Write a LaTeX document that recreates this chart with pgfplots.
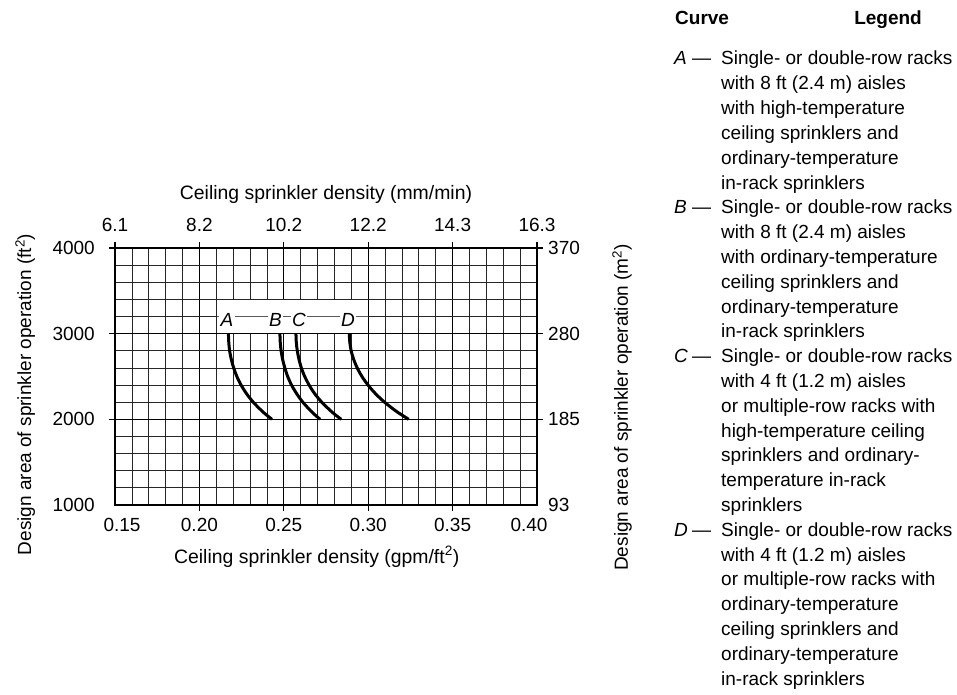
\documentclass[border=0pt]{standalone}
\usepackage{fontspec}
\setmainfont{Liberation Sans}
\usepackage{pgfplots}
\pgfplotsset{compat=1.18}
\newcommand{\fs}{\fontsize{19pt}{23pt}\selectfont}
\newcommand{\fl}{\fontsize{19.4pt}{23pt}\selectfont}
\begin{document}
\fs
\begin{tikzpicture}[x=1pt,y=1pt]
\path[use as bounding box] (0,0) rectangle (957,-695);
% main axis: grid, curves, bottom and left scales
\begin{axis}[
  at={(115pt,-505pt)}, anchor=south west,
  scale only axis, width=422pt, height=257pt,
  xmin=0.15, xmax=0.40, ymin=1000, ymax=4000,
  xtick={0.15,0.20,0.25,0.30,0.35,0.40},
  xticklabels={\hspace*{14pt}0.15,0.20,0.25,0.30,0.35,0.40\hspace*{16pt}},
  ytick={1000,2000,3000,4000},
  yticklabels={1000,2000,3000,4000},
  minor x tick num=4, minor y tick num=4,
  grid=both,
  major grid style={line width=1.3pt, black},
  minor grid style={line width=0.75pt, black!85},
  major tick length=0pt, minor tick length=0pt,
  axis line style={line width=1.3pt},
  extra x ticks={0.20,0.25,0.30,0.35}, extra x tick labels={},
  extra y ticks={2000,3000,4000}, extra y tick labels={},
  extra tick style={major tick length=6pt, tick align=outside, grid=none},
  tick style={line width=1.3pt, black},
  tick label style={font=\fs},
  xticklabel style={anchor=base, inner sep=0pt, yshift=-26.5pt},
  yticklabel style={anchor=east, inner sep=0pt, xshift=-20pt},
  xlabel={Ceiling sprinkler density (gpm/ft\textsuperscript{2})},
  ylabel={Design area of sprinkler operation (ft\textsuperscript{2})},
  label style={font=\fl},
  xlabel style={at={(axis description cs:0.478,-0.226)}, anchor=base},
  ylabel style={at={(axis description cs:-0.199,0.43)}, anchor=base, font=\fs},
  clip=false,
]
\fill[white] (axis cs:0.2104,3012) rectangle (axis cs:0.2996,3390);
\draw[black!65, line width=0.6pt] (axis cs:0.2104,3200) -- (axis cs:0.2996,3200);
\addplot[black, line width=3pt, smooth] coordinates {
  (0.2172,3000) (0.2174,2900) (0.2179,2800) (0.2189,2700) (0.2203,2600)
  (0.2222,2500) (0.2247,2400) (0.2279,2300) (0.2319,2200) (0.2369,2100)
  (0.2398,2050) (0.2430,2000)};
\addplot[black, line width=3pt, smooth] coordinates {
  (0.2477,3000) (0.2479,2900) (0.2484,2800) (0.2493,2700) (0.2506,2600)
  (0.2523,2500) (0.2546,2400) (0.2576,2300) (0.2613,2200) (0.2659,2100)
  (0.2686,2050) (0.2715,2000)};
\addplot[black, line width=3pt, smooth] coordinates {
  (0.2572,3000) (0.2574,2900) (0.2580,2800) (0.2590,2700) (0.2604,2600)
  (0.2624,2500) (0.2650,2400) (0.2683,2300) (0.2725,2200) (0.2777,2100)
  (0.2807,2050) (0.2840,2000)};
\addplot[black, line width=3pt, smooth] coordinates {
  (0.2888,3000) (0.2891,2900) (0.2899,2800) (0.2914,2700) (0.2935,2600)
  (0.2963,2500) (0.2999,2400) (0.3043,2300) (0.3097,2200) (0.3162,2100)
  (0.3200,2050) (0.3240,2000)};
\node[fill=white, inner sep=1.5pt, font=\fs\itshape] at (axis cs:0.2163,3165) {A};
\node[fill=white, inner sep=1.5pt, font=\fs\itshape] at (axis cs:0.2450,3165) {B};
\node[fill=white, inner sep=1.5pt, font=\fs\itshape] at (axis cs:0.2590,3165) {C};
\node[fill=white, inner sep=1.5pt, font=\fs\itshape] at (axis cs:0.2880,3165) {D};
\end{axis}
% secondary scales: top (mm/min) and right (m^2)
\begin{axis}[
  at={(115pt,-505pt)}, anchor=south west,
  scale only axis, width=422pt, height=257pt,
  xmin=0.15, xmax=0.40, ymin=1000, ymax=4000,
  axis line style={draw=none},
  xtick={0.15,0.20,0.25,0.30,0.35,0.40},
  xticklabels={6.1,8.2,10.2,12.2,14.3,16.3},
  xtick pos=right, xticklabel pos=right,
  ytick=\empty,
  extra y ticks={1000,2000,3000,4000},
  extra y tick labels={93,185,280,370},
  ytick pos=right, yticklabel pos=right,
  extra y tick style={major tick length=0pt},
  major tick length=6pt, minor tick length=0pt, tick align=outside,
  tick style={line width=1.3pt, black},
  tick label style={font=\fs},
  xticklabel style={anchor=base, inner sep=0pt, yshift=11pt},
  yticklabel style={anchor=west, inner sep=0pt, xshift=11pt},
  xlabel={Ceiling sprinkler density (mm/min)},
  ylabel={Design area of sprinkler operation (m\textsuperscript{2})},
  label style={font=\fl},
  xlabel style={at={(axis description cs:0.5,1.19)}, anchor=base},
  ylabel style={at={(axis description cs:1.2156,0.38)}, anchor=base, font=\fs},
]
\addplot[draw=none] coordinates {(0.15,1000)};
\end{axis}
% legend text
\node[anchor=base west, inner sep=0pt, font=\fs\bfseries] at (675,-25) {Curve};
\node[anchor=base east, inner sep=0pt, font=\fs\bfseries] at (922,-25) {Legend};
\foreach \l/\i in {A/0,B/6,C/12,D/19}{
  \node[anchor=base west, inner sep=0pt, font=\fs\itshape] at (674,{-65-24.8*\i}) {\l};
  \node[anchor=base west, inner sep=0pt] at (692,{-65-24.8*\i}) {—};
}
\foreach \t [count=\n from 0] in {
  Single- or double-row racks, with 8 ft (2.4 m) aisles, with high-temperature,
  ceiling sprinklers and, ordinary-temperature, in-rack sprinklers,
  Single- or double-row racks, with 8 ft (2.4 m) aisles, with ordinary-temperature,
  ceiling sprinklers and, ordinary-temperature, in-rack sprinklers,
  Single- or double-row racks, with 4 ft (1.2 m) aisles, or multiple-row racks with,
  high-temperature ceiling, sprinklers and ordinary-, temperature in-rack, sprinklers,
  Single- or double-row racks, with 4 ft (1.2 m) aisles, or multiple-row racks with,
  ordinary-temperature, ceiling sprinklers and, ordinary-temperature, in-rack sprinklers}{
  \node[anchor=base west, inner sep=0pt] at (721,{-65-24.8*\n}) {\t};
}
\end{tikzpicture}
\end{document}
